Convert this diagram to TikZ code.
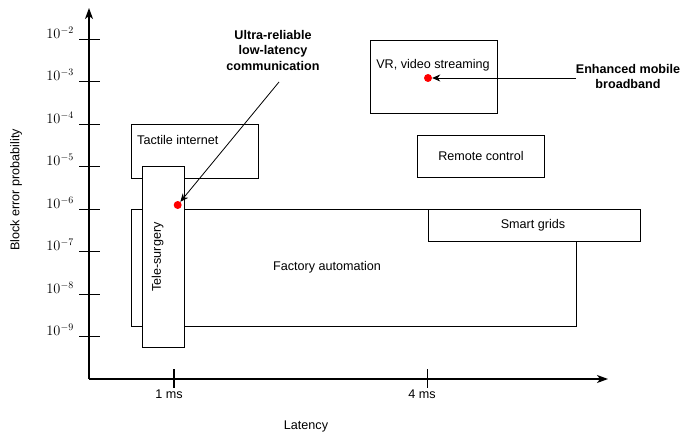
\documentclass[tikz,border=0pt]{standalone}
\usepackage{fontspec}
\newfontfamily\helv{Liberation Sans}
\usetikzlibrary{arrows.meta}
\begin{document}
\begin{tikzpicture}[x=1pt,y=-1pt,
  box/.style={draw=black,fill=white,line width=1pt,inner sep=0pt,anchor=north west},
  lbl/.style={font=\helv\fontsize{12.6}{14}\selectfont,inner sep=0pt},
  note/.style={font=\helv\bfseries\fontsize{12.6}{15.5}\selectfont,align=center,inner sep=0pt},
  axisline/.style={line width=1.2pt,-{Stealth[length=11pt,width=8pt,inset=3pt]}},
  tickline/.style={line width=1.1pt},
  ylab/.style={font=\fontsize{14}{16}\selectfont,anchor=base east,inner sep=0pt},
  usecase/.style={circle,fill=red,inner sep=0pt,minimum size=8pt},
  pointer/.style={line width=0.8pt,-{Stealth[length=8pt,width=7pt,inset=2.5pt]}}]
\useasboundingbox (0,0) rectangle (682,433);

% axes
\coordinate (O) at (89,379);
\coordinate (ytip) at (89,8);
\coordinate (xtip) at (608,379);
\draw[axisline] (O) -- (ytip);
\draw[axisline] (O) -- (xtip);

% block error probability ticks
\foreach \e/\yy in {2/39.5,3/81.5,4/124.5,5/166.5,6/209.5,7/251.5,8/294.5,9/336.5}{
  \draw[tickline] (79,\yy) -- (100,\yy);
  \node[ylab] (y\e) at (74,\yy-1) {$10^{-\e}$};
}

% latency ticks
\draw[tickline] (174,369) -- (174,388);
\draw[tickline] (427.7,369) -- (427.7,388);
\node[lbl] (x1) at (169,394) {1 ms};
\node[lbl] (x4) at (422,394) {4 ms};

% axis titles
\node[lbl] (xtitle) at (306,426) {Latency};
\node[lbl,rotate=90] (ytitle) at (16,190) {Block error probability};

% use-case regions
\node[box,minimum width=445pt,minimum height=117pt] (factory) at (131,209) {};
\node[lbl] (factorytxt) at (327,267) {Factory automation};
\node[box,minimum width=212.3pt,minimum height=32pt] (smart) at (427.7,209) {};
\node[lbl] (smarttxt) at (533,225) {Smart grids};
\node[box,minimum width=127pt,minimum height=53.5pt] (tactile) at (131,124) {};
\node[lbl,anchor=west] (tactiletxt) at (137,140) {Tactile internet};
\node[box,minimum width=42pt,minimum height=180.7pt] (tele) at (142,166) {};
\node[lbl,rotate=90] (teletxt) at (157.5,257) {Tele-surgery};
\node[box,minimum width=127.3pt,minimum height=73pt] (vr) at (369.7,40) {};
\node[lbl] (vrtxt) at (433,65) {VR, video streaming};
\node[box,minimum width=127pt,minimum height=42pt] (remote) at (417,135) {};
\node[lbl] (remotetxt) at (481,156) {Remote control};

% service classes
\node[usecase] (urllcpt) at (177.7,205) {};
\node[usecase] (embbpt) at (428,78) {};
\node[note] (urllc) at (273,50) {Ultra-reliable\\low-latency\\communication};
\node[note] (embb) at (628,76.5) {Enhanced mobile\\broadband};
\coordinate (urllcfrom) at (279,82);
\draw[pointer] (urllcfrom) -- (urllcpt);
\draw[pointer] (embbpt -| embb.west) -- (embbpt);
\end{tikzpicture}
\end{document}
